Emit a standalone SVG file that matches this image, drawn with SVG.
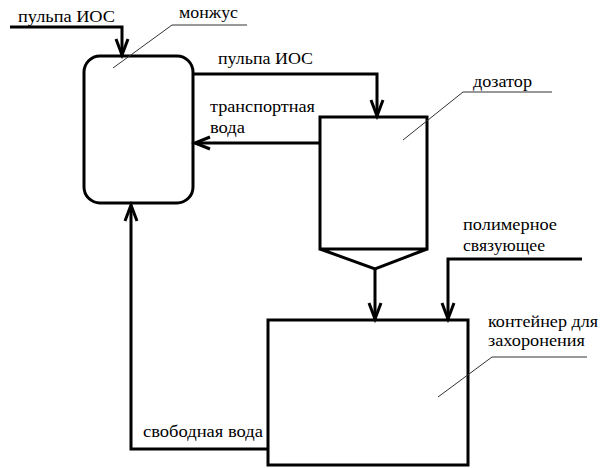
<svg xmlns="http://www.w3.org/2000/svg" width="601" height="468" viewBox="0 0 601 468">
<defs>
<style>
.t{font-family:'Liberation Serif','DejaVu Serif','Times New Roman',Times,serif;font-size:16px;fill:#000}
.k{fill:none;stroke:#000;stroke-width:3;stroke-linejoin:miter}
.c{fill:none;stroke:#000;stroke-width:3}
.a{fill:none;stroke:#000;stroke-width:3;stroke-linecap:butt}
.l{fill:none;stroke:#333;stroke-width:1}
</style>
</defs>
<rect width="601" height="468" fill="#fff"/>
<g id="monzhus">
<rect class="k" x="84" y="56" width="109" height="147" rx="16" ry="16"/>
<path class="l" d="M247,25 H172 L113,68"/>
<text class="t" x="179" y="18" textLength="59" lengthAdjust="spacingAndGlyphs">монжус</text>
</g>
<g id="dozator">
<path class="k" d="M320,117 H427 V249 H320 Z M320,249 L375,269 L427,249"/>
<path class="l" d="M552,92 H463 L403,140"/>
<text class="t" x="473" y="87" textLength="59" lengthAdjust="spacingAndGlyphs">дозатор</text>
</g>
<g id="container">
<rect class="k" x="268" y="320" width="200" height="145"/>
<path class="l" d="M587,357 H492 L438,397"/>
<text class="t" x="488" y="327" textLength="110" lengthAdjust="spacingAndGlyphs">контейнер для</text>
<text class="t" x="488" y="346" textLength="97" lengthAdjust="spacingAndGlyphs">захоронения</text>
</g>
<g id="connectors">
<path class="c" d="M10,27 H122 V55"/>
<path class="a" d="M116,39 L122,55 L128,39"/>
<path class="c" d="M193,74 H377 V116"/>
<path class="a" d="M371,100 L377,116 L383,100"/>
<path class="c" d="M320,143 H195"/>
<path class="a" d="M210,137 L195,143 L210,149"/>
<path class="c" d="M375,269 V319"/>
<path class="a" d="M369,303 L375,319 L381,303"/>
<path class="c" d="M582,259 H448 V319"/>
<path class="a" d="M442,303 L448,319 L454,303"/>
<path class="c" d="M268,449 H131 V205"/>
<path class="a" d="M125,221 L131,205 L137,221"/>
</g>
<g id="labels">
<text class="t" x="18" y="22" textLength="97" lengthAdjust="spacingAndGlyphs">пульпа ИОС</text>
<text class="t" x="218" y="64" textLength="95" lengthAdjust="spacingAndGlyphs">пульпа ИОС</text>
<text class="t" x="210" y="112" textLength="105" lengthAdjust="spacingAndGlyphs">транспортная</text>
<text class="t" x="210" y="133" textLength="35" lengthAdjust="spacingAndGlyphs">вода</text>
<text class="t" x="463" y="230" textLength="94" lengthAdjust="spacingAndGlyphs">полимерное</text>
<text class="t" x="463" y="251" textLength="82" lengthAdjust="spacingAndGlyphs">связующее</text>
<text class="t" x="143" y="437" textLength="120" lengthAdjust="spacingAndGlyphs">свободная вода</text>
</g>
</svg>
